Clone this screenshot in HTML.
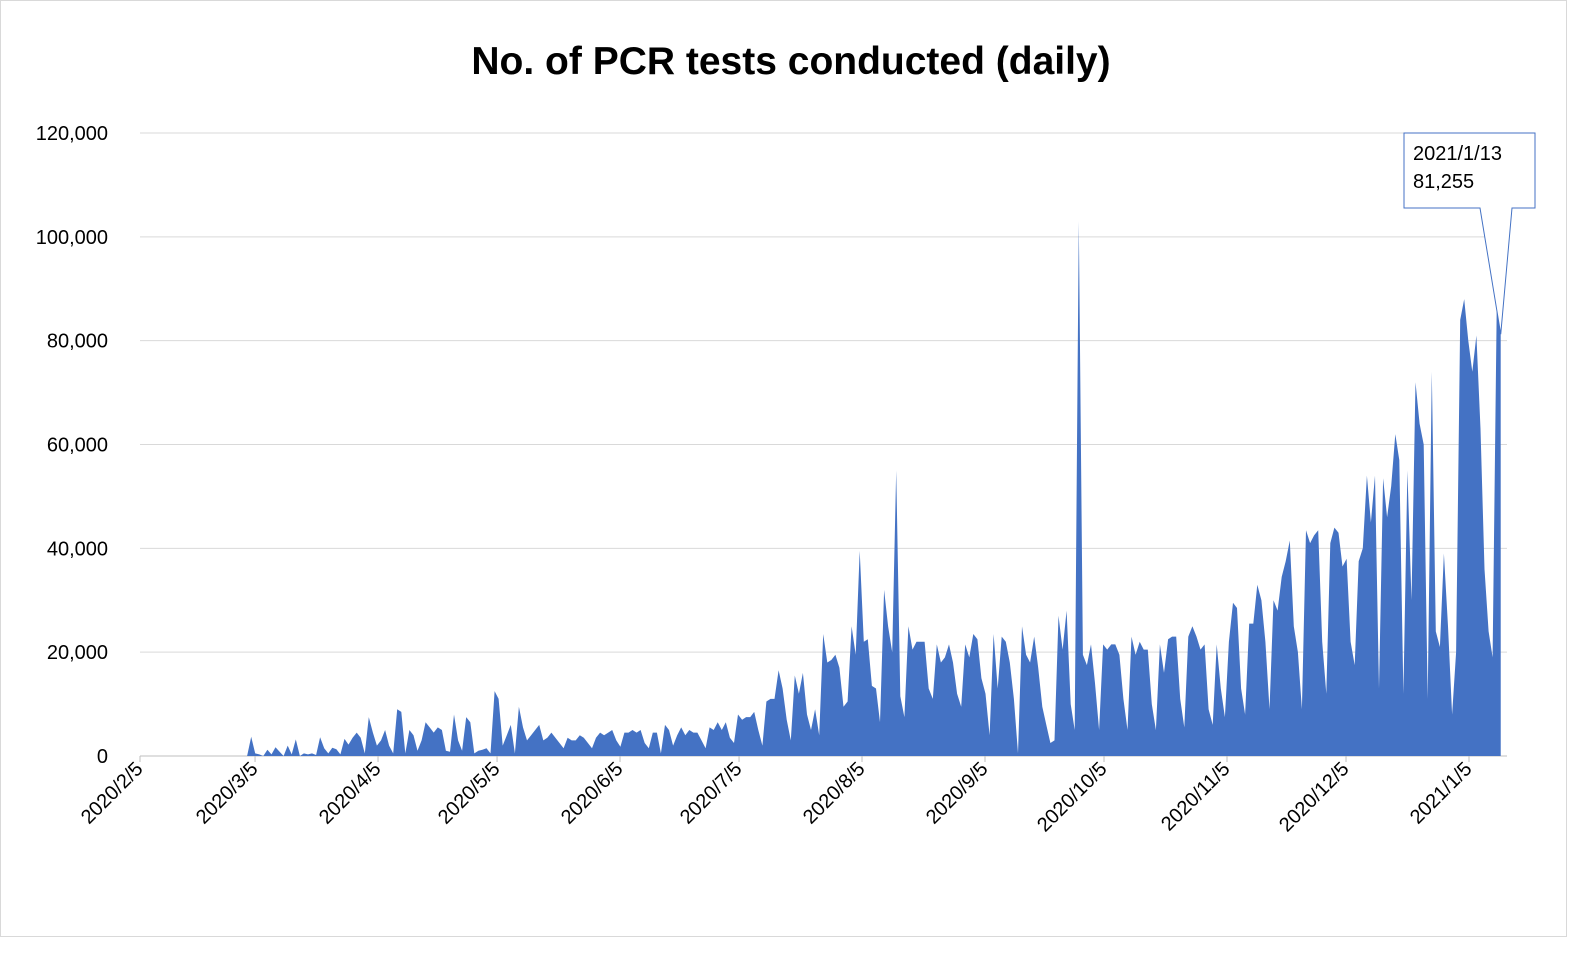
<!DOCTYPE html>
<html><head><meta charset="utf-8"><style>
body{margin:0;background:#fff;font-family:"Liberation Sans",sans-serif}
#wrap{position:relative;width:1585px;height:948px}
</style></head><body>
<div id="wrap">
<svg id="chart" width="1585" height="948">
<rect x="0.5" y="0.5" width="1566" height="936" fill="#fff" stroke="#d9d9d9"/>
<text x="791" y="74" text-anchor="middle" font-size="39" font-weight="bold" fill="#000">No. of PCR tests conducted (daily)</text>
<g id="grid"></g><g id="area"></g><g id="yaxis"></g><g id="xaxis"></g><g id="callout"></g>
</svg></div>
<script>
const yTicks=[0,20000,40000,60000,80000,100000,120000];
const xTickLabels=["2020/2/5","2020/3/5","2020/4/5","2020/5/5","2020/6/5","2020/7/5","2020/8/5","2020/9/5","2020/10/5","2020/11/5","2020/12/5","2021/1/5"];
const xTickDays=[0,29,60,90,121,151,182,213,243,274,304,335];
const startDay=27, endDay=343;
const testsK=[0,3.7,0.5,0.3,0,1.2,0.3,1.7,0.8,0,2,0.3,3.2,0,0.5,0.3,0.5,0.2,3.6,1.5,0.5,1.6,1.3,0.3,3.3,2.2,3.5,4.5,3.5,0.5,
7.5,4.5,2,3,5,2,0.5,9,8.5,0.5,5,4,1,3,6.5,5.5,4.5,5.5,5,1,0.8,8,3,1,7.5,6.5,0.5,1,1.2,1.5,0.5,
12.5,11,2,4,6,0.5,9.5,5.5,3,4,5,6,3,3.5,4.5,3.5,2.5,1.5,3.5,3,3,4,3.5,2.5,1.5,3.5,4.5,4,4.5,5,3,1.8,4.5,4.5,5,4.5,5,2.5,1.5,4.5,4.5,0.5,6,5,2,4,5.5,4,5,4.5,4.5,3,1.5,5.5,5,6.5,5,6.5,3.5,2.5,
8,7,7.5,7.5,8.5,5,2,10.5,11,11,16.5,13,7,3,15.5,12,16,8,5,9,4,
23.5,18,18.5,19.5,17,9.5,10.5,25,19.5,39.5,22,22.5,13.5,13,6.5,32,25,20,55,11.5,7.5,25,20.5,22,22,22,13,11,21.5,18,19,21.5,18,12,9.5,21.5,19,23.5,22.5,15,12,4,23.5,13,23,22,18,11,0.5,
25,19.5,18,23,17,9.5,6,2.5,3,27,20.5,28,10,5,103,19.5,17.5,21.5,14,5,21.5,20.5,21.5,21.5,19.5,11,5,23,19.5,22,20.5,20.5,10,5,21.5,16,22.5,23,23,11,5.5,23,25,23,20.5,21.5,9,6,21.5,13,7.5,22,29.5,28.5,13,8,25.5,25.5,33,30,22,9,30,28,34.5,37.5,41.5,25,20,9,43.5,41,42.5,43.5,22,12,41,44,43,36.5,38,22,17.5,37.5,40,54,45,54,13,53.5,46,52,62,57,12,55,30,72,64,60,11,74,24,21,39,25,8,20,84,88,80,74,81,63,36,24,19,86,81.255];
const X0=140,X1=1469,Y0=756,Y1=133;
const xs=d=>X0+(d-xTickDays[0])*(X1-X0)/(xTickDays[11]-xTickDays[0]);
const ys=v=>Y0-v*(Y0-Y1)/120000;
const NS="http://www.w3.org/2000/svg";
function mk(t,a,p){const e=document.createElementNS(NS,t);for(const k in a)e.setAttribute(k,a[k]);p.appendChild(e);return e;}
const grid=document.getElementById('grid'),ya=document.getElementById('yaxis'),xa=document.getElementById('xaxis');
yTicks.forEach(v=>{
 const l=mk('line',{x1:X0,x2:1507,y1:ys(v),y2:ys(v),stroke:v===0?'#bfbfbf':'#d9d9d9','stroke-width':1},grid);
 
 
 const t=mk('text',{x:108,y:ys(v)+7,'text-anchor':'end','font-size':20,fill:'#000'},ya);
 t.textContent=v.toLocaleString('en-US');
 
 
});
xTickLabels.forEach((s,i)=>{
 const x=xs(xTickDays[i]);
 const tk=mk('line',{x1:x,x2:x,y1:Y0,y2:Y0+6,stroke:'#bfbfbf'},xa);
 
 
 const t=mk('text',{x:x+4,y:Y0+14,'text-anchor':'end','font-size':20,fill:'#000',transform:`rotate(-45 ${x+4} ${Y0+14})`},xa);
 t.textContent=s;
 
 
});
const n=testsK.length;
const dx=i=>xs(startDay+i*(endDay-startDay)/(n-1));
let d=`M${dx(0)},${Y0}`;
testsK.forEach((v,i)=>{d+=`L${dx(i).toFixed(1)},${ys(v*1000).toFixed(1)}`;});
d+=`L${dx(n-1)},${Y0}Z`;
const area=mk('path',{d:d,fill:'#4472c4'},document.getElementById('area'));


const c=document.getElementById('callout');
const px=dx(n-1),py=ys(testsK[n-1]*1000);
const cp=mk('path',{d:`M1404,133H1535V208H1512L${px},${py}L1480,208H1404Z`,fill:'#fff',stroke:'#4472c4','stroke-width':1},c);


const t1=mk('text',{x:1413,y:160,'font-size':20,fill:'#000'},c);t1.textContent='2021/1/13';


const t2=mk('text',{x:1413,y:188,'font-size':20,fill:'#000'},c);t2.textContent='81,255';


</script></body></html>
